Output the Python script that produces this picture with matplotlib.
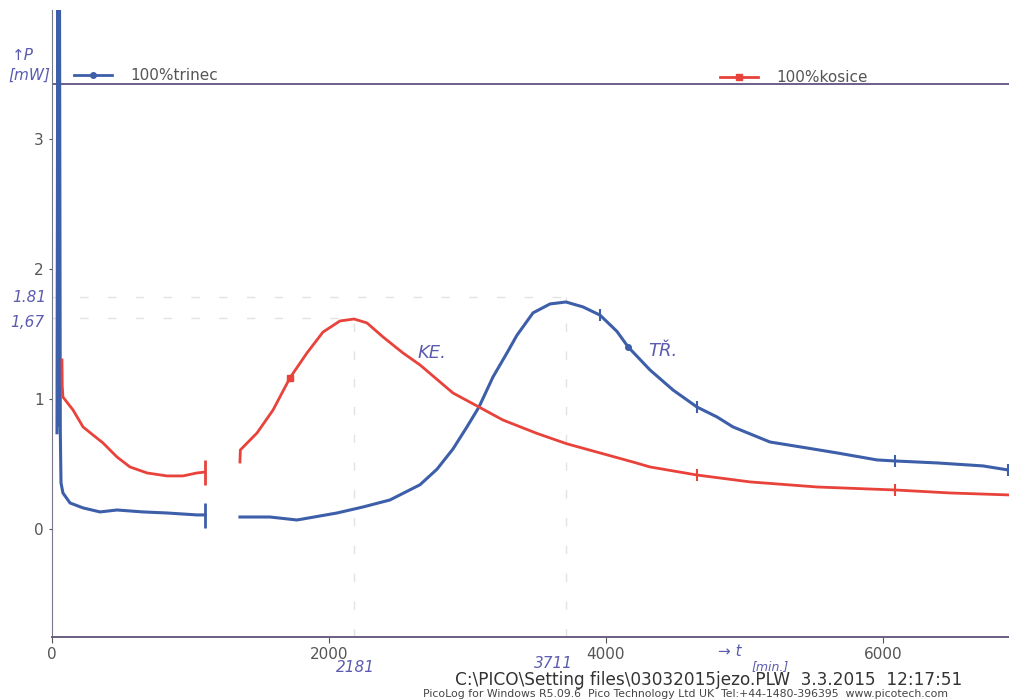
import matplotlib
matplotlib.use("Agg")
import matplotlib.pyplot as plt
import numpy as np
from matplotlib.lines import Line2D

# 100%trinec (blue), two segments with a logging gap between them
TRINEC_T1 = [36, 42, 48, 54, 60, 65, 79, 130, 224, 347, 469, 657, 830, 1047, 1105]
TRINEC_P1 = [0.74, 4.3, 0.80, 4.3, 0.75, 0.354, 0.277, 0.20, 0.162, 0.131, 0.146, 0.131,
             0.123, 0.108, 0.108]
TRINEC_T2 = [1357, 1574, 1769, 2058, 2245, 2440, 2657, 2780, 2895, 2996, 3083, 3184, 3285,
             3357, 3473, 3596, 3711, 3834, 3957, 4079, 4160, 4318, 4484, 4657, 4801, 4917,
             5184, 5451, 5668, 5957, 6087, 6390, 6722, 6903]
TRINEC_P2 = [0.092, 0.092, 0.069, 0.123, 0.169, 0.223, 0.34, 0.46, 0.615, 0.785, 0.938,
             1.169, 1.354, 1.49, 1.662, 1.731, 1.746, 1.708, 1.645, 1.52, 1.40, 1.223, 1.069,
             0.938, 0.862, 0.785, 0.669, 0.623, 0.585, 0.531, 0.523, 0.508, 0.485, 0.454]

# 100%kosice (red)
KOSICE_T1 = [72, 74, 79, 152, 224, 296, 368, 469, 563, 686, 830, 946, 1047, 1105]
KOSICE_P1 = [1.30, 1.10, 1.015, 0.915, 0.785, 0.723, 0.662, 0.554, 0.477, 0.431, 0.408,
             0.408, 0.431, 0.438]
KOSICE_T2 = [1357, 1360, 1480, 1596, 1718, 1841, 1957, 2079, 2181, 2274, 2390, 2534, 2657,
             2895, 3083, 3256, 3502, 3718, 4195, 4318, 4657, 5040, 5523, 6087, 6484, 6903]
KOSICE_P2 = [0.515, 0.608, 0.738, 0.915, 1.162, 1.354, 1.515, 1.60, 1.615, 1.585, 1.477,
             1.354, 1.262, 1.046, 0.938, 0.838, 0.735, 0.655, 0.515, 0.477, 0.415, 0.362,
             0.323, 0.30, 0.277, 0.262]

X_TICKS = [0, 2000, 4000, 6000]
Y_TICKS = [0, 1, 2, 3]
PEAK_TRINEC = (3711, 1.785)
PEAK_KOSICE = (2181, 1.623)

BLUE = "#3d5ea8"
RED = "#e8423b"
INK = "#5b5cb0"
GREY = "#555555"
W, H = 1009, 700


def fx(px):
    return px / W


def fy(py):
    return 1 - py / H


def main() -> None:
    fig = plt.figure(figsize=(W / 100, H / 100), dpi=100)
    ax = fig.add_axes([fx(52), fy(637), 1 - fx(52), fy(10) - fy(637)])
    ax.set_xlim(0, 6910)
    ax.set_ylim(-0.831, 3.992)

    # faint pencil guide lines
    guide = dict(color="#e0e3e0", lw=1, ls=(0, (6, 14)))
    ax.plot([0, PEAK_TRINEC[0]], [PEAK_TRINEC[1]] * 2, **guide)
    ax.plot([0, PEAK_KOSICE[0]], [PEAK_KOSICE[1]] * 2, **guide)
    ax.plot([PEAK_KOSICE[0]] * 2, [-0.83, PEAK_KOSICE[1]], **guide)
    ax.plot([PEAK_TRINEC[0]] * 2, [-0.83, PEAK_TRINEC[1]], **guide)

    ax.axhline(3.42, color="#6a5e8c", lw=1.4)

    t1, p1 = np.array(TRINEC_T1), np.array(TRINEC_P1)
    t2, p2 = np.array(TRINEC_T2), np.array(TRINEC_P2)
    k1, q1 = np.array(KOSICE_T1), np.array(KOSICE_P1)
    k2, q2 = np.array(KOSICE_T2), np.array(KOSICE_P2)

    ax.plot(t1, p1, color=BLUE, lw=2.2)
    ax.plot(t2, p2, color=BLUE, lw=2.2, marker="o", ms=4, markevery=[20])
    ax.plot(k1, q1, color=RED, lw=2.0)
    ax.plot(k2, q2, color=RED, lw=2.0, marker="s", ms=4, markevery=[4])

    # segment end bars and occasional tick marks
    ax.plot(t1[-1:], p1[-1:], ls="none", marker="|", ms=18, mew=2, color=BLUE)
    ax.plot(k1[-1:], q1[-1:], ls="none", marker="|", ms=18, mew=2, color=RED)
    bt = [18, 23, 30, 33]
    rt = [20, 23]
    ax.plot(t2[bt], p2[bt], ls="none", marker="|", ms=9, mew=1.5, color=BLUE)
    ax.plot(k2[rt], q2[rt], ls="none", marker="|", ms=9, mew=1.5, color=RED)

    for side in ("top", "right"):
        ax.spines[side].set_visible(False)
    ax.spines["left"].set_color("#777788")
    ax.spines["bottom"].set_color("#6b5f80")
    ax.spines["bottom"].set_linewidth(1.4)

    ax.set_xticks(X_TICKS)
    ax.set_yticks(Y_TICKS)
    ax.tick_params(colors=GREY, labelsize=11, length=4)
    ax.tick_params(axis="y", length=2, pad=4)

    # legends placed like PicoLog does it
    h1 = Line2D([], [], color=BLUE, lw=2, marker="o", ms=4)
    h2 = Line2D([], [], color=RED, lw=2, marker="s", ms=4)
    fig.legend([h1], ["100%trinec"], loc="center left", bbox_to_anchor=(fx(66), fy(76)),
               frameon=False, fontsize=11, handlelength=2.5, handletextpad=1.2,
               borderpad=0, labelcolor=GREY)
    fig.legend([h2], ["100%kosice"], loc="center left", bbox_to_anchor=(fx(712), fy(78)),
               frameon=False, fontsize=11, handlelength=2.5, handletextpad=1.2,
               borderpad=0, labelcolor=GREY)

    # handwritten notes
    hand = dict(color=INK, fontstyle="italic", fontsize=11)
    fig.text(fx(12), fy(60), "↑P", **hand)
    fig.text(fx(8), fy(80), "[mW]", **hand)
    fig.text(fx(12), fy(302), "1.81", **hand)
    fig.text(fx(10), fy(327), "1,67", **hand)
    fig.text(fx(418), fy(358), "KE.", fontsize=13, color=INK, fontstyle="italic")
    fig.text(fx(648), fy(356), "TŘ.", fontsize=13, color=INK, fontstyle="italic")
    fig.text(fx(336), fy(672), "2181", **hand)
    fig.text(fx(534), fy(668), "3711", **hand)
    fig.text(fx(718), fy(656), "→ t", **hand)
    fig.text(fx(752), fy(670), "[min.]", color=INK, fontstyle="italic", fontsize=9)

    # footer
    fig.text(fx(455), fy(685), "C:\\PICO\\Setting files\\03032015jezo.PLW  3.3.2015  12:17:51",
             fontsize=12.2, color="#333333")
    fig.text(fx(423), fy(697), "PicoLog for Windows R5.09.6  Pico Technology Ltd UK  "
             "Tel:+44-1480-396395  www.picotech.com", fontsize=7.8, color="#444444")

    fig.savefig("out.png", dpi=100)
    plt.close(fig)


if __name__ == "__main__":
    main()
